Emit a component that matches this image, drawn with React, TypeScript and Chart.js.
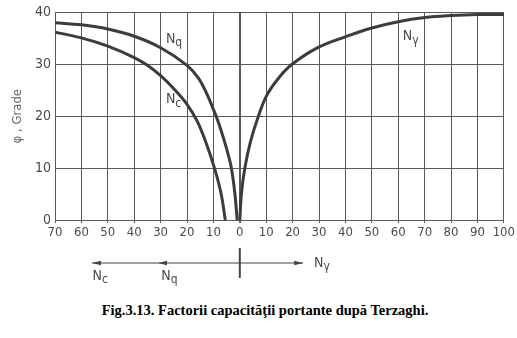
import React, { useEffect, useRef } from "react";
import { Chart, registerables } from "chart.js";
Chart.register(...registerables);

// Terzaghi bearing capacity factors
const nqN = [70, 60, 50, 40, 30, 20, 15.6, 12.5, 10, 8.1, 6.2, 4.5, 3.2, 1.9, 1.0];
const nqPhi = [38.0, 37.6, 36.8, 35.4, 33.2, 29.8, 27.3, 24.3, 21.3, 18.8, 15.8, 12.8, 10.0, 5.2, 0];
const ncN = [70, 60, 50, 40, 35, 30, 25, 20, 16.2, 13.1, 9.6, 7.1, 5.5];
const ncPhi = [36.2, 35.1, 33.5, 31.3, 29.8, 27.8, 25.3, 22.3, 19.1, 15.3, 10.0, 5.1, 0];
const ngN = [0, 0.6, 1.9, 4.0, 6.9, 10.4, 15.1, 19.8, 29.5, 40, 50, 60, 70, 80, 90, 100];
const ngPhi = [0, 5, 10, 15, 19.8, 24.2, 27.6, 30.0, 33.2, 35.3, 37.0, 38.2, 39.0, 39.4, 39.6, 39.6];

const xMin = -70;
const xMax = 100;
const yMax = 40;
const xStep = 10;
const yStep = 10;

const yTitle = "φ , Grade";
const caption = "Fig.3.13. Factorii capacităţii portante după Terzaghi.";

// curve labels: [text, subscript, N (signed), phi]
const curveLabels: [string, string, number, number][] = [
  ["N", "q", -28, 34.9],
  ["N", "c", -28, 23.2],
  ["N", "γ", 61.7, 35.3],
];

// bottom direction diagram (values on the N axis)
const arrowLeft = -56;
const arrowMid = -31;
const arrowRight = 24;
const arrowLabels: [string, string, number][] = [
  ["N", "c", -55],
  ["N", "q", -29],
  ["N", "γ", 27],
];

const FONT = "'Liberation Sans Narrow', 'DejaVu Sans Condensed', 'DejaVu Sans', sans-serif";
const GRID = "#5a5a5a";
const CURVE = "#3c3c3c";
const TEXT = "#4a4a4a";

function drawLabel(ctx: CanvasRenderingContext2D, main: string, sub: string, x: number, y: number) {
  ctx.font = `14px ${FONT}`;
  ctx.fillStyle = TEXT;
  ctx.textAlign = "left";
  ctx.textBaseline = "middle";
  ctx.fillText(main, x, y);
  const w = ctx.measureText(main).width;
  ctx.font = `12px ${FONT}`;
  ctx.fillText(sub, x + w, y + 4);
}

const extras = {
  id: "extras",
  afterDraw(chart: any) {
    const { ctx } = chart;
    const xs = chart.scales.x;
    const ys = chart.scales.y;
    ctx.save();
    for (const [m, s, n, p] of curveLabels) {
      drawLabel(ctx, m, s, xs.getPixelForValue(n), ys.getPixelForValue(p));
    }
    const yL = 263;
    const xl = xs.getPixelForValue(arrowLeft);
    const xm = xs.getPixelForValue(arrowMid);
    const xr = xs.getPixelForValue(arrowRight);
    const x0 = xs.getPixelForValue(0);
    ctx.strokeStyle = "#444";
    ctx.fillStyle = "#444";
    ctx.lineWidth = 1.2;
    ctx.beginPath();
    ctx.moveTo(xl, yL);
    ctx.lineTo(xr, yL);
    ctx.stroke();
    const head = (x: number, dir: number) => {
      ctx.beginPath();
      ctx.moveTo(x, yL);
      ctx.lineTo(x - dir * 9, yL - 2.2);
      ctx.lineTo(x - dir * 9, yL + 2.2);
      ctx.closePath();
      ctx.fill();
    };
    head(xl, -1);
    head(xm, -1);
    head(xr, 1);
    ctx.lineWidth = 2;
    ctx.beginPath();
    ctx.moveTo(x0, 248);
    ctx.lineTo(x0, 278);
    ctx.stroke();
    for (const [m, s, n] of arrowLabels) {
      const px = xs.getPixelForValue(n);
      const py = n > 0 ? 263 : 276;
      drawLabel(ctx, m, s, n > 0 ? px + 3 : px - 2, py);
    }
    ctx.restore();
  },
};

export default function App() {
  const ref = useRef<HTMLCanvasElement>(null);
  useEffect(() => {
    const toPts = (ns: number[], ps: number[], sign: number) =>
      ns.map((n, i) => ({ x: sign * n, y: ps[i] })).sort((a, b) => a.x - b.x);
    const ds = (label: string, data: any[]) => ({
      label,
      data,
      showLine: true,
      borderColor: CURVE,
      borderWidth: 3,
      pointRadius: 0,
      tension: 0.4,
      fill: false,
    });
    const chart = new Chart(ref.current!, {
      type: "scatter",
      data: {
        datasets: [
          ds("Nq", toPts(nqN, nqPhi, -1)),
          ds("Nc", toPts(ncN, ncPhi, -1)),
          ds("Nγ", toPts(ngN, ngPhi, 1)),
        ],
      },
      options: {
        animation: false,
        responsive: false,
        maintainAspectRatio: false,
        layout: { padding: { left: 0, right: 9, top: 11, bottom: 50 } },
        plugins: { legend: { display: false }, tooltip: { enabled: false } },
        scales: {
          x: {
            type: "linear",
            min: xMin,
            max: xMax,
            afterFit: (s: any) => { s.height = 20; },
            ticks: {
              stepSize: xStep,
              color: TEXT,
              font: { family: FONT, size: 13 },
              padding: 2,
              maxRotation: 0,
              autoSkip: false,
              callback: (v: any) => String(Math.abs(Number(v))),
            },
            grid: {
              color: GRID,
              lineWidth: (c: any) => (c.tick && c.tick.value === 0 ? 2 : 1),
              tickLength: 3,
            },
            border: { color: GRID, width: 1 },
          },
          y: {
            type: "linear",
            min: 0,
            max: yMax,
            afterFit: (s: any) => { s.width = 55; },
            ticks: {
              stepSize: yStep,
              color: TEXT,
              font: { family: FONT, size: 14 },
              padding: 4,
            },
            grid: { color: GRID, lineWidth: 1, drawTicks: false },
            border: { color: GRID, width: 1 },
            title: {
              display: true,
              text: yTitle,
              color: "#666",
              font: { family: FONT, size: 13 },
              padding: { top: 10, bottom: 0 },
            },
          },
        },
      },
      plugins: [extras],
    });
    return () => chart.destroy();
  }, []);
  return (
    <div style={{ position: "absolute", left: 0, top: 0, width: 517, height: 338, background: "#fff" }}>
      <canvas ref={ref} width={517} height={290} style={{ display: "block" }} />
      <div
        style={{
          position: "absolute",
          left: 0,
          top: 302,
          width: 530,
          textAlign: "center",
          fontFamily: "'Liberation Serif', 'Times New Roman', serif",
          fontWeight: "bold",
          fontSize: 14.5,
          color: "#000",
          whiteSpace: "nowrap",
        }}
      >
        {caption}
      </div>
    </div>
  );
}
